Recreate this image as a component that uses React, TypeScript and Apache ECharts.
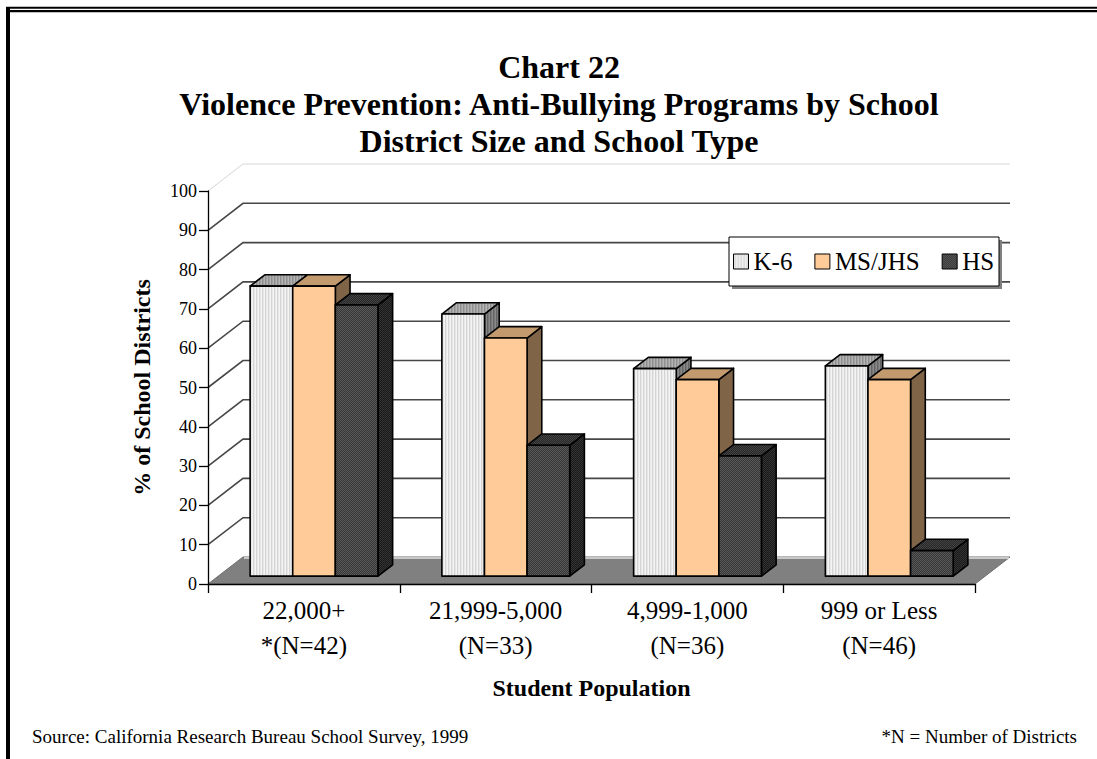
import React, { useEffect, useRef } from "react";
import * as echarts from "echarts";

// Student population bands (two-line labels under the floor)
const CATEGORIES = [
  "22,000+\n*(N=42)",
  "21,999-5,000\n(N=33)",
  "4,999-1,000\n(N=36)",
  "999 or Less\n(N=46)",
];
const SERIES_NAMES = ["K-6", "MS/JHS", "HS"];

// % of school districts with anti-bullying programs
const K6_VALUES = [73.8, 66.7, 52.8, 53.5];
const MSJHS_VALUES = [73.8, 60.6, 50.0, 50.0];
const HS_VALUES = [69.0, 33.3, 30.6, 6.5];

const Y_TICKS = [0, 10, 20, 30, 40, 50, 60, 70, 80, 90, 100];

const TITLE_LINES = [
  "Chart 22",
  "Violence Prevention: Anti-Bullying Programs by School",
  "District Size and School Type",
];
const SOURCE_TEXT = "Source: California Research Bureau School Survey, 1999";
const NOTE_TEXT = "*N = Number of Districts";

// oblique projection of the depth axis (pixels for full depth)
const DX = 35;
const DY = -27;
// depth span of the bars (fractions of full depth)
const F0 = 0.29;
const F1 = 0.71;

const SERIF = "'Liberation Serif', 'Times New Roman', serif";

type Fill = string | { image: HTMLCanvasElement; repeat: string };

function stripes(colors: string[]): Fill {
  const c = document.createElement("canvas");
  c.width = colors.length;
  c.height = 4;
  const ctx = c.getContext("2d")!;
  colors.forEach((col, i) => {
    ctx.fillStyle = col;
    ctx.fillRect(i, 0, 1, 4);
  });
  return { image: c, repeat: "repeat" };
}

function checker(a: string, b: string): Fill {
  const c = document.createElement("canvas");
  c.width = 2;
  c.height = 2;
  const ctx = c.getContext("2d")!;
  ctx.fillStyle = a;
  ctx.fillRect(0, 0, 2, 2);
  ctx.fillStyle = b;
  ctx.fillRect(0, 0, 1, 1);
  ctx.fillRect(1, 1, 1, 1);
  return { image: c, repeat: "repeat" };
}

type Faces = { front: Fill; top: Fill; side: Fill };

function makeBarRenderer(slot: number, faces: Faces) {
  return (params: any, api: any) => {
    const i = api.value(0);
    const v = api.value(1);
    const base = api.coord([i, 0]);
    const top = api.coord([i, v]);
    const catW = api.size([1, 0])[0];
    const bw = catW / 4.5;
    const x0 = base[0] - 1.5 * bw + slot * bw + DX * F0;
    const x1 = x0 + bw;
    const yb = base[1] + DY * F0;
    const yt = top[1] + DY * F0;
    const ddx = DX * (F1 - F0);
    const ddy = DY * (F1 - F0);
    const edge = { stroke: "#000", lineWidth: 1.6, lineJoin: "round" };
    return {
      type: "group",
      children: [
        {
          type: "polygon",
          shape: { points: [[x1, yt], [x1 + ddx, yt + ddy], [x1 + ddx, yb + ddy], [x1, yb]] },
          style: { fill: faces.side, ...edge },
        },
        {
          type: "polygon",
          shape: { points: [[x0, yt], [x1, yt], [x1 + ddx, yt + ddy], [x0 + ddx, yt + ddy]] },
          style: { fill: faces.top, ...edge },
        },
        {
          type: "rect",
          shape: { x: x0, y: yt, width: bw, height: yb - yt },
          style: { fill: faces.front, ...edge },
        },
      ],
    };
  };
}

// back wall gridlines, their diagonals on the side wall, and the floor
function renderWalls(params: any, api: any) {
  const v = api.value(1);
  const cs = params.coordSys;
  const y = api.coord([0, v])[1];
  const xl = cs.x;
  const xr = cs.x + cs.width;
  if (v === 0) {
    return {
      type: "group",
      children: [
        {
          type: "polygon",
          shape: { points: [[xl, y], [xr, y], [xr + DX, y + DY], [xl + DX, y + DY]] },
          style: { fill: "#808080", stroke: "#6e6e6e", lineWidth: 1 },
        },
        {
          type: "line",
          shape: { x1: xl + DX + 1, y1: y + DY + 1, x2: xr + DX - 1, y2: y + DY + 1 },
          style: { stroke: "#c8c8c8", lineWidth: 2 },
        },
      ],
    };
  }
  const faint = v === 100;
  return {
    type: "polyline",
    shape: { points: [[xl, y], [xl + DX, y + DY], [xr + DX, y + DY]] },
    style: {
      fill: null,
      stroke: faint ? "#d6d6d6" : "#474747",
      lineWidth: faint ? 1 : 1.6,
    },
  };
}

export default function App() {
  const ref = useRef<HTMLDivElement>(null);

  useEffect(() => {
    if (!ref.current) return;
    const chart = echarts.init(ref.current, null, { renderer: "svg" });

    const k6Faces: Faces = {
      front: stripes(["#f4f4f4", "#d4d4d4", "#e8e8e8"]),
      top: stripes(["#b4b4b4", "#8e8e8e", "#a2a2a2"]),
      side: stripes(["#8a8a8a", "#646464", "#787878"]),
    };
    const msFaces: Faces = { front: "#FFCC99", top: "#C29A6E", side: "#806448" };
    const hsFaces: Faces = {
      front: checker("#363636", "#5a5a5a"),
      top: checker("#262626", "#444444"),
      side: checker("#1a1a1a", "#333333"),
    };
    const allFaces = [k6Faces, msFaces, hsFaces];
    const allValues = [K6_VALUES, MSJHS_VALUES, HS_VALUES];

    const bars = SERIES_NAMES.map((name, s) => ({
      type: "custom",
      name,
      z: 2,
      renderItem: makeBarRenderer(s, allFaces[s]),
      itemStyle: { color: allFaces[s].front, borderColor: "#000", borderWidth: 1 },
      data: allValues[s].map((v, i) => [i, v]),
    }));

    chart.setOption({
      animation: false,
      backgroundColor: "#fff",
      textStyle: { fontFamily: SERIF, color: "#000" },
      title: {
        text: TITLE_LINES.join("\n"),
        left: 559,
        top: 48,
        textAlign: "center",
        padding: 0,
        textStyle: {
          fontFamily: SERIF,
          fontSize: 32,
          fontWeight: "bold",
          lineHeight: 37,
          color: "#000",
        },
      },
      grid: { left: 208, top: 191, width: 767, height: 393, containLabel: false },
      xAxis: {
        type: "category",
        data: CATEGORIES,
        z: 3,
        boundaryGap: true,
        axisLine: { lineStyle: { color: "#000", width: 1.3 } },
        axisTick: { show: true, length: 9, lineStyle: { color: "#000", width: 1.3 } },
        axisLabel: {
          fontFamily: SERIF,
          fontSize: 25,
          lineHeight: 35,
          margin: 9,
          color: "#000",
          interval: 0,
        },
        name: "Student Population",
        nameLocation: "middle",
        nameGap: 92,
        nameTextStyle: { fontFamily: SERIF, fontSize: 24, fontWeight: "bold", color: "#000" },
        splitLine: { show: false },
      },
      yAxis: {
        type: "value",
        min: 0,
        max: 100,
        interval: 10,
        z: 3,
        axisLine: { show: true, lineStyle: { color: "#000", width: 1.3 } },
        axisTick: { show: true, length: 9, lineStyle: { color: "#000", width: 1.3 } },
        axisLabel: { fontFamily: SERIF, fontSize: 18, margin: 11, color: "#000" },
        splitLine: { show: false },
        name: "% of School Districts",
        nameLocation: "middle",
        nameGap: 54,
        nameTextStyle: { fontFamily: SERIF, fontSize: 24, fontWeight: "bold", color: "#000" },
      },
      legend: {
        z: 11,
        left: 733,
        top: 249,
        padding: 0,
        itemWidth: 15,
        itemHeight: 15,
        itemGap: 22,
        icon: "rect",
        selectedMode: false,
        textStyle: { fontFamily: SERIF, fontSize: 25, color: "#000", padding: [0, 0, 0, 0] },
        data: SERIES_NAMES.map((name, s) => ({
          name,
          itemStyle: { color: allFaces[s].front, borderColor: "#000", borderWidth: 1 },
        })),
      },
      graphic: [
        // legend frame with its drop shadow
        { type: "rect", z: 10, shape: { x: 732, y: 240, width: 270, height: 49 }, style: { fill: "#808080" } },
        {
          type: "rect",
          z: 10,
          shape: { x: 729, y: 237, width: 270, height: 49 },
          style: { fill: "#fff", stroke: "#000", lineWidth: 1 },
        },
        // page frame
        { type: "line", z: 10, shape: { x1: 6, y1: 7.7, x2: 1097, y2: 7.7 }, style: { stroke: "#000", lineWidth: 2 } },
        { type: "line", z: 10, shape: { x1: 6, y1: 11.2, x2: 1097, y2: 11.2 }, style: { stroke: "#000", lineWidth: 2.3 } },
        { type: "rect", z: 10, shape: { x: 6, y: 7, width: 4, height: 760 }, style: { fill: "#000" } },
        // footer notes
        {
          type: "text",
          z: 10,
          x: 32,
          y: 736,
          style: { text: SOURCE_TEXT, font: `19px ${SERIF}`, fill: "#000", textVerticalAlign: "middle" },
        },
        {
          type: "text",
          z: 10,
          x: 1077,
          y: 736,
          style: {
            text: NOTE_TEXT,
            font: `19px ${SERIF}`,
            fill: "#000",
            textAlign: "right",
            textVerticalAlign: "middle",
          },
        },
      ],
      series: [
        {
          type: "custom",
          name: "walls",
          z: 1,
          silent: true,
          renderItem: renderWalls,
          data: Y_TICKS.map((v) => [0, v]),
        },
        ...bars,
      ],
    });

    return () => chart.dispose();
  }, []);

  return (
    <div
      ref={ref}
      style={{ position: "fixed", left: 0, top: 0, width: 1097, height: 759, background: "#fff" }}
    />
  );
}
